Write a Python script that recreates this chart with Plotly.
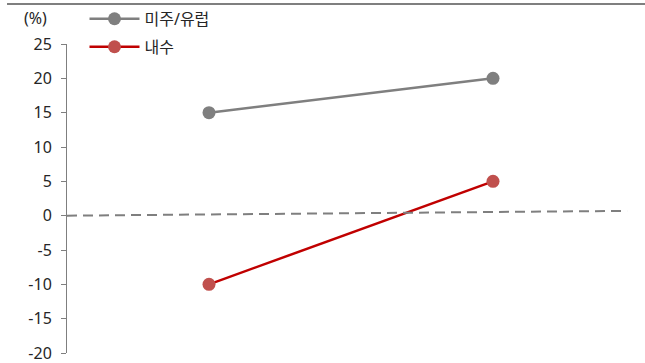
import plotly.graph_objects as go

categories = ["A", "B"]
us_eu = [15, 20]
domestic = [-10, 5]
ref_x = [0, 0.986]
ref_y = [0, 0.7]
y_ticks = [-20, -15, -10, -5, 0, 5, 10, 15, 20, 25]
y_ticktext = ["-20", "-15", "-10", "-5", "0", "5", "10", "15", "20", "25"]

FONT = "Noto Sans, Noto Sans CJK KR"
GRAY = "#7f7f7f"
RED = "#c00000"
RED_M = "#c0504d"
TXT = "#262626"

fig = go.Figure()

fig.add_trace(go.Scatter(
    x=ref_x, y=ref_y, xaxis="x2", mode="lines",
    line=dict(color=GRAY, width=2, dash="10px,6px"),
    showlegend=False, hoverinfo="skip"))

fig.add_trace(go.Scatter(
    x=categories, y=us_eu, name="미주/유럽", mode="lines+markers",
    line=dict(color=GRAY, width=2.5),
    marker=dict(color=GRAY, size=13), legend="legend"))

fig.add_trace(go.Scatter(
    x=categories, y=domestic, name="내수", mode="lines+markers",
    line=dict(color=RED, width=2.5),
    marker=dict(color=RED_M, size=13), legend="legend2"))

fig.update_layout(
    width=645, height=363,
    margin=dict(l=67, r=10, t=44, b=10, autoexpand=False),
    paper_bgcolor="white", plot_bgcolor="white",
    font=dict(family=FONT, size=16, color=TXT),
    xaxis=dict(type="category", range=[-0.5, 1.5], visible=False),
    xaxis2=dict(range=[0, 1], overlaying="x", visible=False),
    yaxis=dict(range=[-20, 25], tickvals=y_ticks, ticktext=y_ticktext,
               showgrid=False, zeroline=False, showline=True,
               linecolor=GRAY, linewidth=1,
               ticks="outside", ticklen=5, tickcolor=GRAY,
               ticklabeloverflow="allow", ticklabelstandoff=6,
               tickfont=dict(family=FONT, size=16, color=TXT)),
    legend=dict(x=0.131, y=0.948, xref="container", yref="container",
                xanchor="left", yanchor="middle", itemwidth=50,
                bgcolor="rgba(0,0,0,0)", font=dict(size=16, color=TXT)),
    legend2=dict(x=0.131, y=0.871, xref="container", yref="container",
                 xanchor="left", yanchor="middle", itemwidth=50,
                 bgcolor="rgba(0,0,0,0)", font=dict(size=16, color=TXT)),
    shapes=[dict(type="line", xref="paper", yref="paper",
                 x0=-0.1056, x1=1.02, y0=1.1294, y1=1.1294,
                 line=dict(color=GRAY, width=2))],
    annotations=[dict(text="(%)", xref="paper", yref="paper",
                      x=-0.0563, y=1.084, xanchor="center", yanchor="middle",
                      showarrow=False, font=dict(size=16, color=TXT))],
    showlegend=True,
)

fig.write_html("out.html")
